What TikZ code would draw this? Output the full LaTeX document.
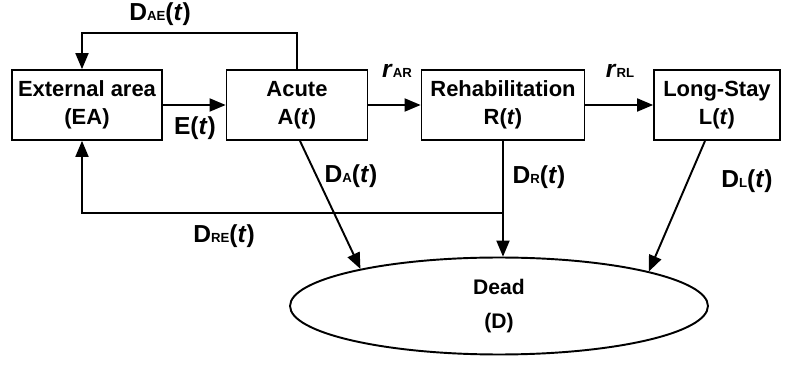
\documentclass[tikz,border=0pt]{standalone}
\usepackage{fontspec}
\setmainfont{Liberation Sans}
\usetikzlibrary{arrows, shapes.geometric, calc, positioning}
\tikzset{compartment/.style={
    draw, line width=1.1pt, minimum height=1.4cm, align=center,
    font=\fontsize{12.5}{16}\selectfont\bfseries, inner sep=2pt
    },
    flow/.style={->, line width=1.1pt},
    ratelabel/.style={font=\fontsize{14}{16}\selectfont\bfseries, inner sep=1pt}
}
\newcommand{\sublab}[1]{{\fontsize{7.5}{8}\selectfont #1}}
\newcommand{\rateof}[2]{#1\sublab{#2}(\textit{t})}

\begin{document}
\begin{tikzpicture}[>=triangle 45, x=0.02cm, y=-0.02cm]
        \useasboundingbox[fill=white] (0, 0) rectangle (789, 368);
        % compartments
        \node[compartment, minimum width=3cm] (EA) at (87, 105) {External area\\(EA)};
        \node[compartment, minimum width=2.82cm] (A) at (297, 105) {Acute\\A(\textit{t})};
        \node[compartment, minimum width=3.26cm] (R) at (503, 105) {Rehabilitation\\R(\textit{t})};
        \node[compartment, minimum width=2.52cm] (L) at (717, 105) {Long-Stay\\L(\textit{t})};
        \node[draw, ellipse, line width=1.1pt, minimum width=8.36cm, minimum height=1.94cm,
              align=center, font=\fontsize{12}{19}\selectfont\bfseries] (D) at (499, 306) {Dead\\(D)};

        % forward flows
        \draw[flow] (EA) -- (A);
        \node[ratelabel] (Et) at (195, 128) {E(\textit{t})};
        \draw[flow] (A) -- (R);
        \node[ratelabel] (rAR) at (397, 71) {\textit{r}\sublab{AR}};
        \draw[flow] (R) -- (L);
        \node[ratelabel] (rRL) at (620, 71) {\textit{r}\sublab{RL}};

        % back to external area
        \coordinate (aeTop) at (82, 33);
        \draw[flow] (A.north) |- (aeTop) -- (aeTop |- EA.north);
        \node[ratelabel] (DAE) at (160, 14) {\rateof{D}{AE}};

        \coordinate (reJoin) at (503, 213);
        \draw[flow] (reJoin) -| (aeTop |- EA.south);
        \node[ratelabel] (DRE) at (224, 236) {\rateof{D}{RE}};

        % deaths
        \draw[flow] ($(A.south) + (3, 0)$) -- (D.165);
        \node[ratelabel] (DA) at (351, 176) {\rateof{D}{A}};
        \draw[flow] (R.south) -- (R.south |- D.north);
        \node[ratelabel] (DR) at (539, 177) {\rateof{D}{R}};
        \draw[flow] ($(L.south) + (-12, 0)$) -- (D.13);
        \node[ratelabel] (DL) at (747, 181) {\rateof{D}{L}};
\end{tikzpicture}
\end{document}
